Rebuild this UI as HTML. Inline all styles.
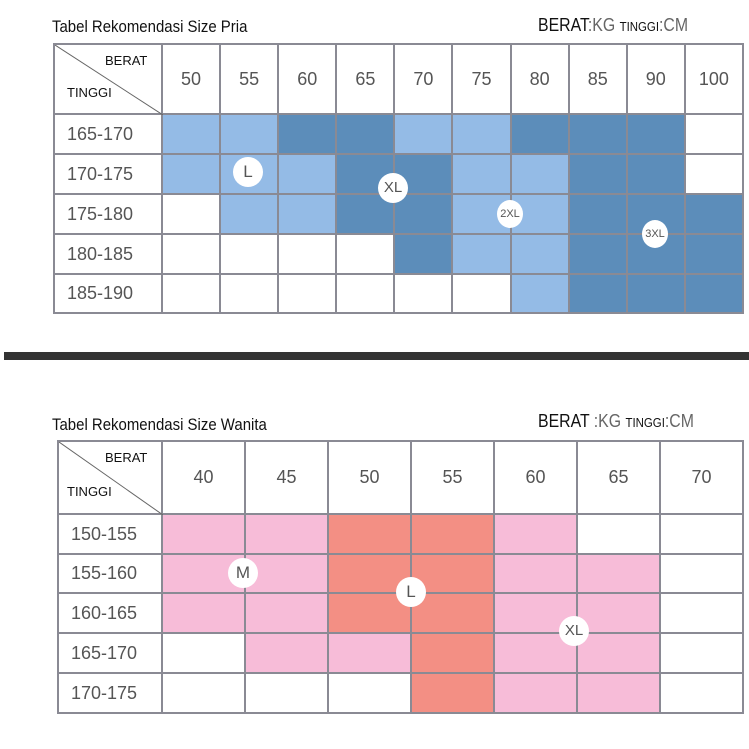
<!DOCTYPE html>
<html><head><style>
body{margin:0;width:749px;height:749px;background:#fff;position:relative;overflow:hidden;font-family:"Liberation Sans",sans-serif;}
.t{position:absolute;font-family:"Liberation Sans Narrow","Liberation Sans",sans-serif;color:#111;}
table{position:absolute;border-collapse:collapse;table-layout:fixed;}
td{border:2px solid #8a8a94;padding:0;text-align:center;color:#555;font-size:18px;}
td.h{font-size:18px;}
td.r{font-size:18px;text-align:left;padding-left:12px;}
.L{background:#94bbe6}.D{background:#5c8dba}.P{background:#f7bcd8}.S{background:#f38f84}
.c{position:absolute;border-radius:50%;background:#fff;color:#555;text-align:center;font-size:15px;}
.diag{position:relative;}
</style></head><body>
<div class="t" style="left:52px;top:17px;font-size:17px;transform:scaleX(.88);transform-origin:left">Tabel Rekomendasi Size Pria</div>
<div class="t" style="left:538px;top:15px;font-size:18px;transform:scaleX(.88);transform-origin:left">BERAT<span style="color:#666">:KG</span> <span style="font-size:13px">TINGGI</span><span style="color:#666">:CM</span></div>
<table style="left:53px;top:43px;width:689px">
<colgroup><col style="width:108px"><col span="10" style="width:58.1px"></colgroup>
<tr style="height:70px"><td style="position:relative"><svg style="position:absolute;left:0;top:0" width="108" height="70"><line x1="0" y1="0" x2="108" y2="70" stroke="#666" stroke-width="1"/></svg><span style="position:absolute;left:50px;top:8px;font-size:13px;color:#111">BERAT</span><span style="position:absolute;left:12px;top:40px;font-size:13px;color:#111">TINGGI</span></td>
<td>50</td><td>55</td><td>60</td><td>65</td><td>70</td><td>75</td><td>80</td><td>85</td><td>90</td><td>100</td></tr>
<tr style="height:40px"><td class="r">165-170</td><td class="L"></td><td class="L"></td><td class="D"></td><td class="D"></td><td class="L"></td><td class="L"></td><td class="D"></td><td class="D"></td><td class="D"></td><td></td></tr>
<tr style="height:40px"><td class="r">170-175</td><td class="L"></td><td class="L"></td><td class="L"></td><td class="D"></td><td class="D"></td><td class="L"></td><td class="L"></td><td class="D"></td><td class="D"></td><td></td></tr>
<tr style="height:40px"><td class="r">175-180</td><td></td><td class="L"></td><td class="L"></td><td class="D"></td><td class="D"></td><td class="L"></td><td class="L"></td><td class="D"></td><td class="D"></td><td class="D"></td></tr>
<tr style="height:40px"><td class="r">180-185</td><td></td><td></td><td></td><td></td><td class="D"></td><td class="L"></td><td class="L"></td><td class="D"></td><td class="D"></td><td class="D"></td></tr>
<tr style="height:39px"><td class="r">185-190</td><td></td><td></td><td></td><td></td><td></td><td></td><td class="L"></td><td class="D"></td><td class="D"></td><td class="D"></td></tr>
</table>
<div class="c" style="left:233px;top:157px;width:30px;height:30px;line-height:30px;font-size:17px">L</div>
<div class="c" style="left:378px;top:173px;width:30px;height:30px;line-height:30px">XL</div>
<div class="c" style="left:497px;top:200px;width:26px;height:28px;line-height:28px;font-size:11px">2XL</div>
<div class="c" style="left:642px;top:220px;width:26px;height:28px;line-height:28px;font-size:11px">3XL</div>
<div style="position:absolute;left:4px;top:352px;width:745px;height:8px;background:#333"></div>
<div class="t" style="left:52px;top:415px;font-size:17px;transform:scaleX(.88);transform-origin:left">Tabel Rekomendasi Size Wanita</div>
<div class="t" style="left:538px;top:411px;font-size:18px;transform:scaleX(.88);transform-origin:left">BERAT <span style="color:#666">:KG</span> <span style="font-size:13px">TINGGI</span><span style="color:#666">:CM</span></div>
<table style="left:57px;top:440px;width:685px">
<colgroup><col style="width:104px"><col span="7" style="width:83px"></colgroup>
<tr style="height:73px"><td style="position:relative"><svg style="position:absolute;left:0;top:0" width="104" height="73"><line x1="0" y1="0" x2="104" y2="73" stroke="#666" stroke-width="1"/></svg><span style="position:absolute;left:46px;top:8px;font-size:13px;color:#111">BERAT</span><span style="position:absolute;left:8px;top:42px;font-size:13px;color:#111">TINGGI</span></td>
<td>40</td><td>45</td><td>50</td><td>55</td><td>60</td><td>65</td><td>70</td></tr>
<tr style="height:40px"><td class="r">150-155</td><td class="P"></td><td class="P"></td><td class="S"></td><td class="S"></td><td class="P"></td><td></td><td></td></tr>
<tr style="height:39px"><td class="r">155-160</td><td class="P"></td><td class="P"></td><td class="S"></td><td class="S"></td><td class="P"></td><td class="P"></td><td></td></tr>
<tr style="height:40px"><td class="r">160-165</td><td class="P"></td><td class="P"></td><td class="S"></td><td class="S"></td><td class="P"></td><td class="P"></td><td></td></tr>
<tr style="height:40px"><td class="r">165-170</td><td></td><td class="P"></td><td class="P"></td><td class="S"></td><td class="P"></td><td class="P"></td><td></td></tr>
<tr style="height:40px"><td class="r">170-175</td><td></td><td></td><td></td><td class="S"></td><td class="P"></td><td class="P"></td><td></td></tr>
</table>
<div class="c" style="left:228px;top:558px;width:30px;height:30px;line-height:30px;font-size:17px">M</div>
<div class="c" style="left:396px;top:577px;width:30px;height:30px;line-height:30px;font-size:17px">L</div>
<div class="c" style="left:559px;top:616px;width:30px;height:30px;line-height:30px">XL</div>
</body></html>
